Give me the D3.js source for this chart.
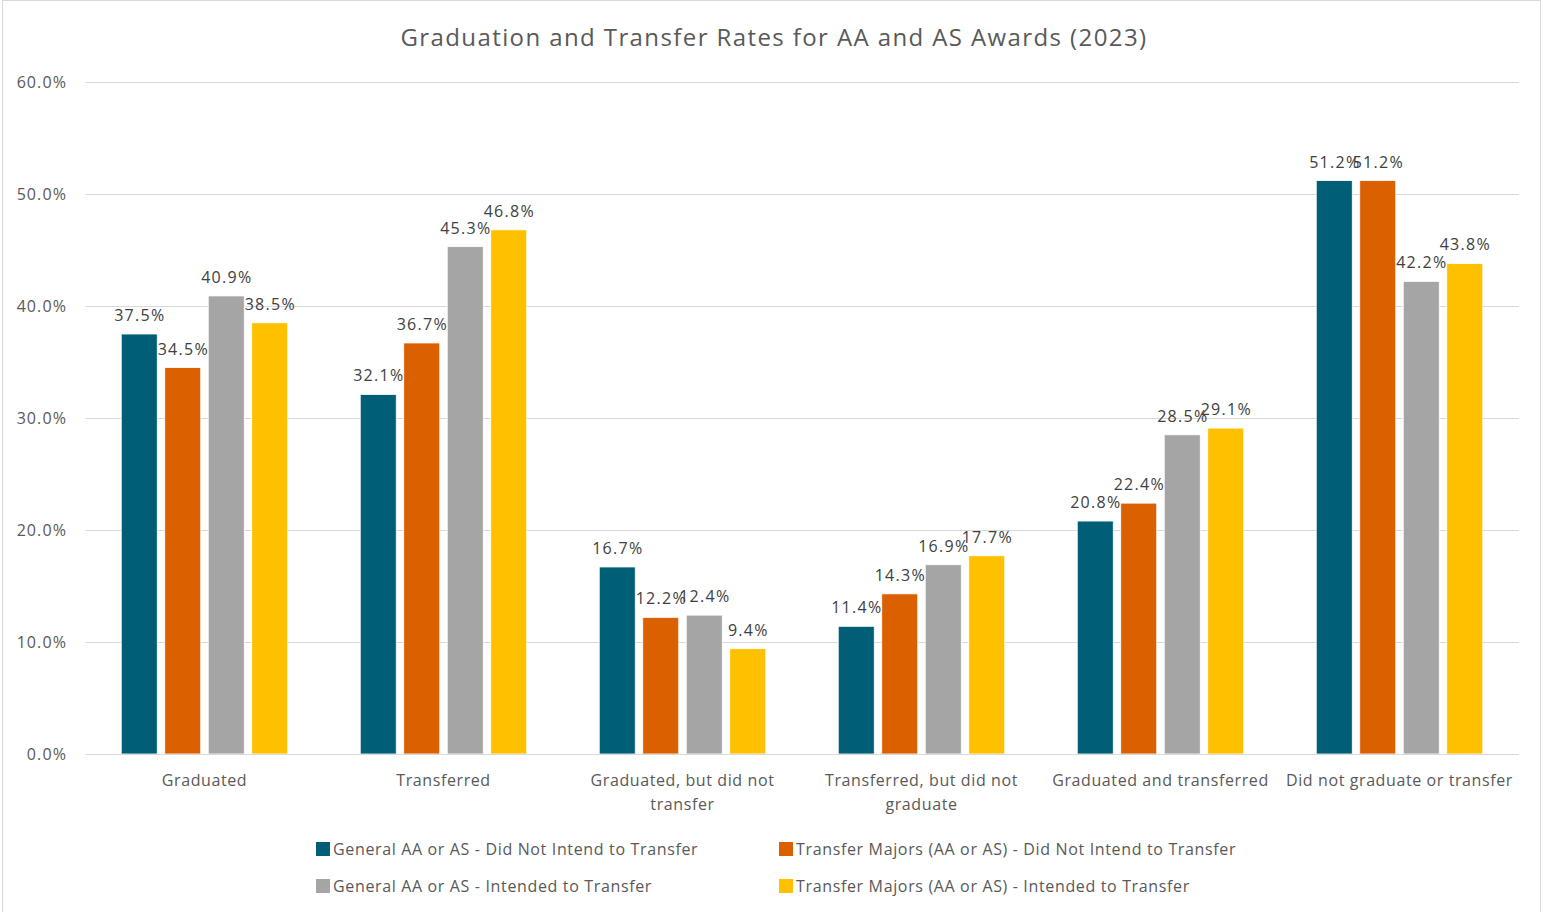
<!DOCTYPE html>
<html>
<head>
<meta charset="utf-8">
<script src="https://cdn.jsdelivr.net/npm/d3@7"></script>
<style>
  body { margin: 0; background: #fff; }
  text { font-family: "Open Sans", "Noto Sans", sans-serif; }
</style>
</head>
<body>
<svg id="chart" width="1543" height="912"></svg>
<script>
// chart data
const categories = [
  'Graduated',
  'Transferred',
  'Graduated, but did not transfer',
  'Transferred, but did not graduate',
  'Graduated and transferred',
  'Did not graduate or transfer'
];
const seriesNames = [
  'General AA or AS - Did Not Intend to Transfer',
  'Transfer Majors (AA or AS) - Did Not Intend to Transfer',
  'General AA or AS - Intended to Transfer',
  'Transfer Majors (AA or AS) - Intended to Transfer'
];
const generalNoIntend = [37.5, 32.1, 16.7, 11.4, 20.8, 51.2];
const majorsNoIntend = [34.5, 36.7, 12.2, 14.3, 22.4, 51.2];
const generalIntend = [40.9, 45.3, 12.4, 16.9, 28.5, 42.2];
const majorsIntend = [38.5, 46.8, 9.4, 17.7, 29.1, 43.8];
const yTicks = [0, 10, 20, 30, 40, 50, 60];

const seriesValues = [generalNoIntend, majorsNoIntend, generalIntend, majorsIntend];
const colors = ['#005f77', '#db6100', '#a5a5a5', '#ffc000'];

let svg = d3.select('#chart');

// outer border
svg.append('rect')
  .attr('x', 2.5).attr('y', 0.5)
  .attr('width', 1538).attr('height', 915)
  .attr('fill', 'none')
  .attr('stroke', '#d9d9d9');

let plotLeft = 85, plotRight = 1519, plotTop = 82, plotBottom = 754;

let x0 = d3.scaleBand().domain(categories).range([plotLeft, plotRight]);
let x1 = d3.scaleBand().domain(d3.range(4))
  .range([0, x0.bandwidth()])
  .paddingInner(0.172)
  .paddingOuter(0.833);
let y = d3.scaleLinear().domain([0, 60]).range([plotBottom, plotTop]);

// title
svg.append('text')
  .attr('x', 774).attr('y', 46)
  .attr('text-anchor', 'middle')
  .style('font-size', '24px')
  .style('letter-spacing', '1.4px')
  .attr('fill', '#595959')
  .text('Graduation and Transfer Rates for AA and AS Awards (2023)');

// gridlines
svg.append('g')
  .selectAll('line')
  .data(yTicks.slice(1))
  .enter()
  .append('line')
  .attr('x1', plotLeft).attr('x2', plotRight)
  .attr('y1', d => y(d) + 0.5).attr('y2', d => y(d) + 0.5)
  .attr('stroke', '#d9d9d9');

// y axis labels
let yAxis = d3.axisLeft(y).tickValues(yTicks)
  .tickFormat(d => d.toFixed(1) + '%')
  .tickSize(0).tickPadding(18);
let yg = svg.append('g').attr('transform', 'translate(' + plotLeft + ',0)').call(yAxis);
yg.select('.domain').remove();
yg.selectAll('text')
  .style('font-size', '16px')
  .style('letter-spacing', '1.1px')
  .style('font-family', '"Open Sans", "Noto Sans", sans-serif')
  .attr('fill', '#595959');

// bars
let groups = svg.append('g')
  .selectAll('g')
  .data(categories)
  .enter()
  .append('g')
  .attr('transform', d => 'translate(' + x0(d) + ',0)');

groups.selectAll('rect')
  .data((c, i) => seriesValues.map((vals, s) => ({ s: s, v: vals[i] })))
  .enter()
  .append('rect')
  .attr('x', d => x1(d.s))
  .attr('width', x1.bandwidth())
  .attr('y', d => y(d.v))
  .attr('height', d => y(0) - y(d.v))
  .attr('fill', d => colors[d.s])
  .attr('stroke', '#fff')
  .attr('stroke-width', 0.8);

groups.selectAll('.lbl')
  .data((c, i) => seriesValues.map((vals, s) => ({ s: s, v: vals[i] })))
  .enter()
  .append('text')
  .attr('class', 'lbl')
  .attr('x', d => x1(d.s) + x1.bandwidth() / 2 + 0.6)
  .attr('y', d => y(d.v) - 13)
  .attr('text-anchor', 'middle')
  .style('font-size', '16px')
  .style('letter-spacing', '1.3px')
  .attr('fill', '#404040')
  .text(d => d.v.toFixed(1) + '%');

// x axis line
svg.append('line')
  .attr('x1', plotLeft).attr('x2', plotRight)
  .attr('y1', plotBottom + 0.5).attr('y2', plotBottom + 0.5)
  .attr('stroke', '#d9d9d9');

// category labels, wrapped to band width
svg.append('g')
  .selectAll('text')
  .data(categories)
  .enter()
  .append('text')
  .attr('x', d => x0(d) + x0.bandwidth() / 2)
  .attr('y', 786)
  .attr('text-anchor', 'middle')
  .style('font-size', '16px')
  .style('letter-spacing', '0.6px')
  .attr('fill', '#595959')
  .each(function(d) {
    let el = d3.select(this);
    let words = d.split(' ');
    let line = [];
    let tspan = el.append('tspan').attr('x', el.attr('x')).attr('dy', 0);
    words.forEach(w => {
      line.push(w);
      tspan.text(line.join(' '));
      if (tspan.node().getComputedTextLength() > x0.bandwidth() - 6 && line.length > 1) {
        line.pop();
        tspan.text(line.join(' '));
        line = [w];
        tspan = el.append('tspan').attr('x', el.attr('x')).attr('dy', 24).text(w);
      }
    });
  });

// legend
let legendPos = [[316, 849], [779, 849], [316, 886], [779, 886]];
let legend = svg.append('g')
  .selectAll('g')
  .data(seriesNames)
  .enter()
  .append('g')
  .attr('transform', (d, i) => 'translate(' + legendPos[i][0] + ',' + legendPos[i][1] + ')');

legend.append('rect')
  .attr('x', 0).attr('y', -7)
  .attr('width', 14).attr('height', 14)
  .attr('fill', (d, i) => colors[i]);

legend.append('text')
  .attr('x', 17).attr('y', 6)
  .style('font-size', '16px')
  .style('letter-spacing', '0.65px')
  .attr('fill', '#595959')
  .text(d => d);
</script>
</body>
</html>
